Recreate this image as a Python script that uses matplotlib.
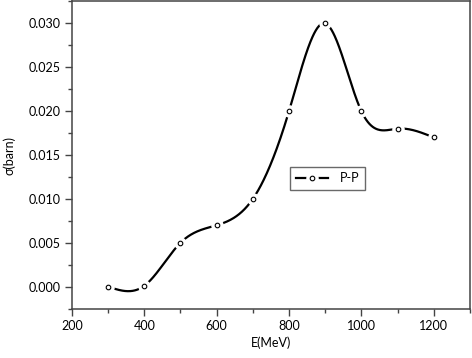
import numpy as np
import matplotlib
matplotlib.use("Agg")
import matplotlib.pyplot as plt
from matplotlib.ticker import MultipleLocator
from matplotlib.lines import Line2D
from matplotlib.legend_handler import HandlerTuple

energy = [300, 400, 500, 600, 700, 800, 900, 1000, 1100, 1200]
sigma = [0.0, 0.0001, 0.005, 0.007, 0.010, 0.020, 0.030, 0.020, 0.018, 0.017]
series_label = "P-P"

def natural_spline(x, y, xs):
    x = np.asarray(x, float); y = np.asarray(y, float)
    n = len(x)
    h = np.diff(x)
    A = np.zeros((n, n)); b = np.zeros(n)
    A[0, 0] = 1; A[-1, -1] = 1
    for i in range(1, n - 1):
        A[i, i - 1] = h[i - 1]
        A[i, i] = 2 * (h[i - 1] + h[i])
        A[i, i + 1] = h[i]
        b[i] = 3 * ((y[i + 1] - y[i]) / h[i] - (y[i] - y[i - 1]) / h[i - 1])
    c = np.linalg.solve(A, b)
    out = np.empty_like(xs)
    for k, xv in enumerate(xs):
        i = min(max(np.searchsorted(x, xv) - 1, 0), n - 2)
        dx = xv - x[i]
        bi = (y[i + 1] - y[i]) / h[i] - h[i] * (2 * c[i] + c[i + 1]) / 3
        di = (c[i + 1] - c[i]) / (3 * h[i])
        out[k] = y[i] + bi * dx + c[i] * dx ** 2 + di * dx ** 3
    return out

plt.rcParams['font.family'] = ['Lato', 'DejaVu Sans']
FS = 9

fig = plt.figure(figsize=(4.72, 3.58), dpi=100)
ax = fig.add_axes([0.1525, 0.138, 0.843, 0.858])

xs = np.linspace(energy[0], energy[-1], 600)
ax.plot(xs, natural_spline(energy, sigma, xs), color='black', lw=1.6, zorder=2)
ax.plot(energy, sigma, linestyle='none', marker='o', ms=8, mfc='white', mec='white', zorder=3)
ax.plot(energy, sigma, linestyle='none', marker='o', ms=3.3, mfc='white', mec='black', mew=0.8, zorder=4)

ax.set_xlim(200, 1300)
ax.set_ylim(-0.0025, 0.0325)
ax.xaxis.set_major_locator(MultipleLocator(200))
ax.xaxis.set_minor_locator(MultipleLocator(100))
ax.yaxis.set_major_locator(MultipleLocator(0.005))
ax.yaxis.set_minor_locator(MultipleLocator(0.0025))
ax.yaxis.set_major_formatter(matplotlib.ticker.FormatStrFormatter('%.3f'))
ax.tick_params(which='major', direction='out', length=5, width=1, color='#444444', labelsize=FS)
ax.tick_params(which='minor', direction='out', length=3, width=1, color='#444444')
for s in ax.spines.values():
    s.set_color('#444444')
    s.set_linewidth(1.1)

ax.set_xlabel('E(MeV)', fontsize=FS, labelpad=3)
ax.set_ylabel('σ(barn)', fontsize=FS, labelpad=9)

h_line = Line2D([], [], color='black', lw=1.6)
h_gap = Line2D([], [], linestyle='none', marker='o', ms=8, mfc='white', mec='white')
h_mark = Line2D([], [], linestyle='none', marker='o', ms=3.3, mfc='white', mec='black', mew=0.8)
leg = ax.legend([(h_line, h_gap, h_mark)], [series_label], loc='upper left',
                bbox_to_anchor=(0.548, 0.462),
                handler_map={tuple: HandlerTuple(ndivide=1, pad=0)},
                frameon=True, fancybox=False, fontsize=FS, handlelength=2.6, borderpad=0.45,
                handletextpad=0.9, borderaxespad=0)
leg.get_frame().set_edgecolor('#444444')
leg.get_frame().set_linewidth(1.0)

fig.savefig('out.png', dpi=100)
